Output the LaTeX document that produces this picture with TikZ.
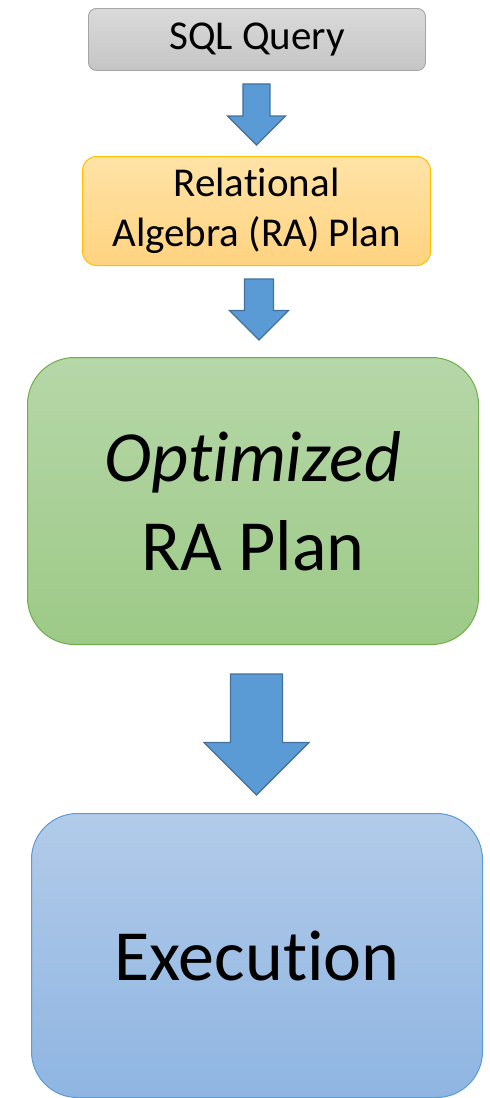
\documentclass[tikz,border=0pt]{standalone}
\usepackage{fontspec}
\setmainfont{Carlito}[Ligatures={NoCommon,NoContextual},Contextuals={NoAlternate}]
\usetikzlibrary{calc}
\definecolor{grayfillT}{HTML}{DADADA}
\definecolor{grayfillB}{HTML}{C5C5C5}
\definecolor{grayline}{HTML}{A5A5A5}
\definecolor{orfillT}{HTML}{FFE3A6}
\definecolor{orfillB}{HTML}{FFD380}
\definecolor{orline}{HTML}{FFC000}
\definecolor{grfillT}{HTML}{B6D7A8}
\definecolor{grfillB}{HTML}{9DCA87}
\definecolor{grline}{HTML}{70AD47}
\definecolor{blfillT}{HTML}{B2CBE9}
\definecolor{blfillB}{HTML}{8FB5E2}
\definecolor{blline}{HTML}{5B9BD5}
\definecolor{arfill}{HTML}{5B9BD5}
\definecolor{arline}{HTML}{41719C}
\tikzset{
  box/.style={draw, anchor=north west, inner sep=0pt, align=center, text=black},
  blockarrow/.style={draw=arline, fill=arfill, line width=1.2pt, line join=miter},
}
\newcommand{\blockarr}[7]{% from, to, topgap, botgap, shafthalf, headhalf, dx
  \draw[blockarrow] let \p1=($(#1.south)+(#7,#3)$), \p2=($(#2.north)+(#7,-#4)$) in
    (\x1-#5pt,\y1) -- (\x1+#5pt,\y1) -- (\x1+#5pt,\y2+#6pt) -- (\x1+#6pt,\y2+#6pt)
    -- (\x1,\y2) -- (\x1-#6pt,\y2+#6pt) -- (\x1-#5pt,\y2+#6pt) -- cycle;
}
\begin{document}
\begin{tikzpicture}[x=1pt,y=-1pt]
\useasboundingbox (0,0) rectangle (490,1098);
\node[box, draw=grayline, line width=0.9pt, top color=grayfillT, bottom color=grayfillB,
  rounded corners=8pt, minimum width=337pt, minimum height=62pt,
  font=\fontsize{41}{50}\selectfont] (sql) at (88,8) {SQL Query};
\node[box, draw=orline, line width=1pt, top color=orfillT, bottom color=orfillB,
  rounded corners=14pt, minimum width=348pt, minimum height=109pt,
  font=\fontsize{41}{50}\selectfont] (ra) at (82,156) {Relational\\Algebra (RA) Plan};
\node[box, draw=grline, line width=1pt, top color=grfillT, bottom color=grfillB,
  rounded corners=47pt, minimum width=451pt, minimum height=287pt,
  font=\fontsize{72}{89}\selectfont] (opt) at (27,357) {\textit{Optimized}\\RA Plan};
\node[box, draw=blline, line width=1pt, top color=blfillT, bottom color=blfillB,
  rounded corners=46pt, minimum width=451pt, minimum height=284pt,
  font=\fontsize{72}{89}\selectfont] (exec) at (31,813) {Execution};
\blockarr{sql}{ra}{13}{11}{13.5}{29}{-0.5}
\blockarr{ra}{opt}{13}{17}{14.5}{29.5}{2.5}
\blockarr{opt}{exec}{29}{18}{26}{52.5}{3.5}
\end{tikzpicture}
\end{document}
